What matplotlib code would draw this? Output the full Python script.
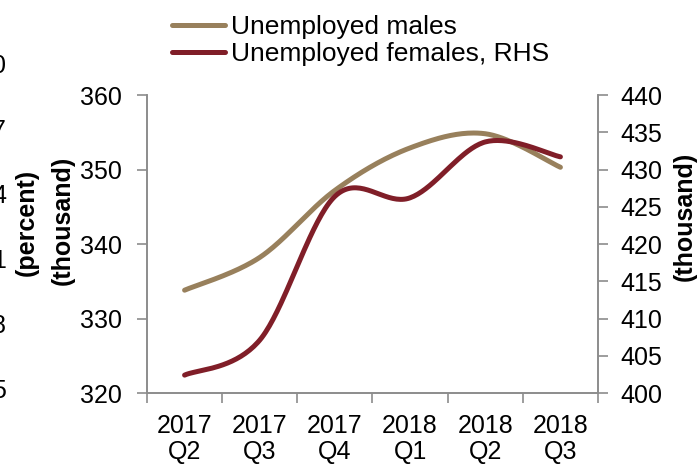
import numpy as np
import matplotlib
matplotlib.use("Agg")
import matplotlib.pyplot as plt
from matplotlib.ticker import FixedLocator, NullFormatter

plt.rcParams['font.family'] = ['Liberation Sans', 'DejaVu Sans']

quarters = ["2017\nQ2", "2017\nQ3", "2017\nQ4", "2018\nQ1", "2018\nQ2", "2018\nQ3"]
males = [333.8, 338.2, 347.2, 352.9, 354.8, 350.3]          # thousand, left axis
females = [402.4, 407.1, 426.4, 426.2, 433.7, 431.7]        # thousand, right axis
left_ticks = [320, 330, 340, 350, 360]
right_ticks = [400, 405, 410, 415, 420, 425, 430, 435, 440]
edge_digits = ["0", "7", "4", "1", "8", "5"]

MALE_C = "#98805C"
FEMALE_C = "#801E28"
SPINE_C = "#8C8C8C"
FS = 18


def smooth(xs, ys, n=40):
    """Catmull-Rom style smoothing (Bezier controls at 1/6 of neighbour span)."""
    P = np.column_stack([xs, ys]).astype(float)
    m = len(P)
    out = []
    for i in range(m - 1):
        p0 = P[i - 1] if i > 0 else P[i]
        p1, p2 = P[i], P[i + 1]
        p3 = P[i + 2] if i + 2 < m else P[i + 1]
        c1 = p1 + (p2 - p0) / 6.0
        c2 = p2 - (p3 - p1) / 6.0
        t = np.linspace(0, 1, n)[:, None]
        seg = ((1 - t) ** 3) * p1 + 3 * ((1 - t) ** 2) * t * c1 + 3 * (1 - t) * t ** 2 * c2 + t ** 3 * p2
        out.append(seg if i == 0 else seg[1:])
    curve = np.vstack(out)
    return curve[:, 0], curve[:, 1]


W, H = 699, 465
fig = plt.figure(figsize=(W / 100, H / 100), dpi=100)
L, R, T, B = 147, 598, 95, 393
ax = fig.add_axes([L / W, 1 - B / H, (R - L) / W, (B - T) / H])
ax2 = ax.twinx()

x = np.arange(len(quarters))
mx, my = smooth(x, males)
fx, fy = smooth(x, females)
lm, = ax.plot(mx, my, color=MALE_C, lw=3.6, solid_capstyle='round', label="Unemployed males")
lf, = ax2.plot(fx, fy, color=FEMALE_C, lw=3.6, solid_capstyle='round', label="Unemployed females, RHS")

for a in (ax, ax2):
    a.set_xlim(-0.5, len(quarters) - 0.5)
    a.spines['top'].set_visible(False)
    for s in ('left', 'right', 'bottom'):
        a.spines[s].set_color(SPINE_C)
        a.spines[s].set_linewidth(1.2)
    a.patch.set_visible(False)

ax.set_ylim(320, 360)
ax.set_yticks(left_ticks)
ax2.set_ylim(400, 440)
ax2.set_yticks(right_ticks)

ax.xaxis.set_major_locator(FixedLocator(np.arange(-0.5, len(quarters), 1.0)))
ax.xaxis.set_major_formatter(NullFormatter())
ax.xaxis.set_minor_locator(FixedLocator(x))
ax.set_xticklabels(quarters, minor=True)
ax.tick_params(axis='x', which='major', direction='out', length=7, width=1.2, color=SPINE_C)
ax.tick_params(axis='x', which='minor', length=0, pad=15, labelsize=FS)
ax.tick_params(axis='y', direction='out', length=7, width=1.2, color=SPINE_C, pad=11, labelsize=FS)
ax2.tick_params(axis='y', direction='out', length=7, width=1.2, color=SPINE_C, pad=9, labelsize=FS)
for lab in ax.get_xticklabels(minor=True):
    lab.set_linespacing(1.1)

# axis titles
fig.text(63 / W, 1 - 220 / H, "(thousand)", rotation=90, ha='center', va='center',
         fontsize=FS, fontweight='bold')
fig.text(685 / W, 1 - 216 / H, "(thousand)", rotation=90, ha='center', va='center',
         fontsize=FS, fontweight='bold')
fig.text(27 / W, 1 - 222 / H, "(percent)", rotation=90, ha='center', va='center',
         fontsize=FS, fontweight='bold')

# neighbouring panel's tick labels at the left edge
for i, d in enumerate(edge_digits):
    fig.text(6 / W, 1 - (66 + 65 * i) / H, d, ha='right', va='center', fontsize=FS)

fig.legend(handles=[lm, lf], loc='upper left', bbox_to_anchor=(172 / W, 1 - 15 / H),
           frameon=False, fontsize=19, handlelength=2.0, handletextpad=0.22,
           labelspacing=0.12, borderaxespad=0, borderpad=0)

fig.savefig("out.png", dpi=100)
